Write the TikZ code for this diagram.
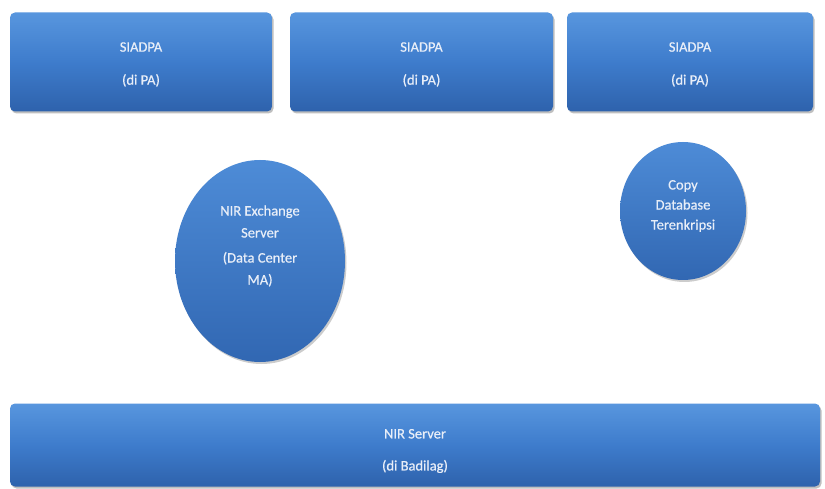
\documentclass[tikz,border=0pt]{standalone}
\usepackage{fontspec}
\setmainfont{Carlito}
\newfontfamily\lblfont{Carlito}[FakeBold=0.6]
\usetikzlibrary{shapes.geometric,shadows}
\definecolor{btop}{RGB}{88,150,222}
\definecolor{bmid}{RGB}{62,124,204}
\definecolor{bbot}{RGB}{46,98,172}
\definecolor{txt}{RGB}{232,238,248}
\tikzset{
  blk/.style={rectangle, rounded corners=5pt, top color=btop, bottom color=bbot, middle color=bmid,
    draw=none, inner sep=0pt,
    drop shadow={shadow xshift=1.5pt, shadow yshift=-2pt, fill=black, opacity=0.25}},
  ell/.style={ellipse, top color=btop!60!bmid, bottom color=bbot!80!bmid, draw=none, inner sep=0pt,
    drop shadow={shadow xshift=1.5pt, shadow yshift=-2pt, fill=black, opacity=0.2}},
  lbl/.style={text=txt, align=center, inner sep=0pt}
}
\begin{document}
\begin{tikzpicture}[x=1pt,y=-1pt]
\useasboundingbox (0,0) rectangle (825,489);
\fill[white] (0,0) rectangle (825,489);
\node[blk, minimum width=262pt, minimum height=99pt] (s1) at (141,62) {};
\node[blk, minimum width=263pt, minimum height=99pt] (s2) at (421.5,62) {};
\node[blk, minimum width=246pt, minimum height=99pt] (s3) at (690,62) {};
\node[ell, minimum width=170pt, minimum height=202pt] (nx) at (260,261) {};
\node[ell, minimum width=126pt, minimum height=138pt] (cp) at (683,211) {};
\node[blk, minimum width=810pt, minimum height=83pt] (ns) at (415,445) {};
\foreach \n in {s1,s2,s3}{
  \node[lbl, font=\lblfont\fontsize{14.5}{17}\selectfont] (\n t) at ([yshift=-2.5pt]\n.center) {SIADPA\\[16pt](di PA)};
}
\node[lbl, font=\lblfont\fontsize{14.5}{22}\selectfont] (nxt) at ([yshift=15pt]nx.center) {NIR Exchange\\Server\\[3pt](Data Center\\MA)};
\node[lbl, font=\lblfont\fontsize{14.5}{20}\selectfont] (cpt) at ([yshift=5pt]cp.center) {Copy\\Database\\Terenkripsi};
\node[lbl, font=\lblfont\fontsize{14.5}{17}\selectfont] (nst) at ([yshift=-6pt]ns.center) {NIR Server\\[15pt](di Badilag)};
\end{tikzpicture}
\end{document}
